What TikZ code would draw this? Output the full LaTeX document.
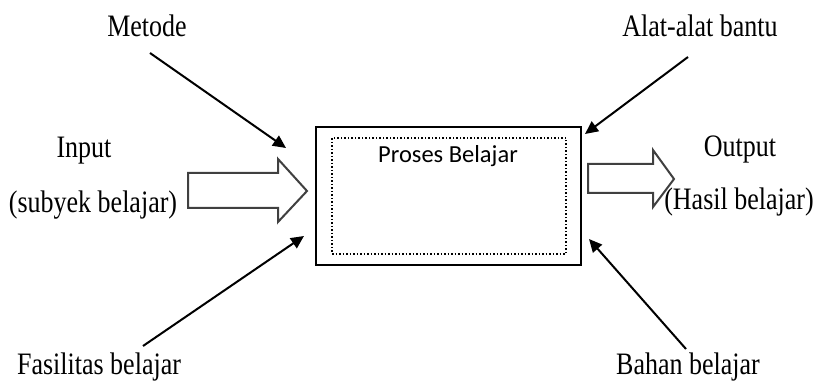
\documentclass[tikz,border=0pt]{standalone}
\usepackage{fontspec}
\setmainfont{Liberation Serif}
\newfontfamily\procfont{Carlito}
\usetikzlibrary{arrows.meta}
\tikzset{
  lbl/.style={inner sep=0pt, anchor=base, font=\fontsize{26}{28}\selectfont},
  feed/.style={line width=2pt, -{Triangle[length=13pt,width=12pt]}},
  blockarrow/.style={draw=black!75, line width=2pt, fill=white, line join=miter},
}
\newcommand{\tallstr}[1]{\scalebox{1}[1.2]{#1}}
\begin{document}
\begin{tikzpicture}[x=1pt,y=-1pt]
\useasboundingbox (0,0) rectangle (817,382);
% main box
\node[draw, line width=2.5pt, minimum width=265pt, minimum height=138pt, inner sep=0pt] (proc) at (448.5,196) {};
\node[draw, dotted, line width=1.5pt, minimum width=234pt, minimum height=116pt, inner sep=0pt] (inner) at (449,196) {};
\node[inner sep=0pt, anchor=base, font=\procfont\fontsize{24.5}{26}\selectfont] (ptitle) at (448,163) {Proses Belajar};
% labels
\node[lbl] (metode) at (147,37) {\tallstr{Metode}};
\node[lbl] (alat) at (700,37) {\tallstr{Alat-alat bantu}};
\node[lbl] (input) at (84,158) {\tallstr{Input}};
\node[lbl] (subyek) at (93,213) {\tallstr{(subyek belajar)}};
\node[lbl] (output) at (740,157) {\tallstr{Output}};
\node[lbl] (hasil) at (739,210) {\tallstr{(Hasil belajar)}};
\node[lbl] (fasilitas) at (99,374) {\tallstr{Fasilitas belajar}};
\node[lbl] (bahan) at (688,374) {\tallstr{Bahan belajar}};
% connector end points
\coordinate (m0) at (150,53);
\coordinate (m1) at (286,148);
\coordinate (a0) at (688,57);
\coordinate (a1) at (585,134);
\coordinate (f0) at (143,346);
\coordinate (f1) at (304,236);
\coordinate (b0) at (686,349);
\coordinate (b1) at (589,239);
\draw[feed] (m0) -- (m1);
\draw[feed] (a0) -- (a1);
\draw[feed] (f0) -- (f1);
\draw[feed] (b0) -- (b1);
% block arrows
\draw[blockarrow] (188,173) -- (278,173) -- (278,159) -- (307,191) -- (278,222) -- (278,208) -- (188,208) -- cycle;
\draw[blockarrow] (588,164) -- (653,164) -- (653,150) -- (674,179) -- (653,207) -- (653,193) -- (588,193) -- cycle;
\end{tikzpicture}
\end{document}
